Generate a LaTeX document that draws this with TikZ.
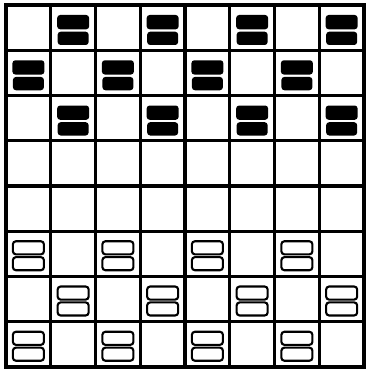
\documentclass[tikz,border=0pt]{standalone}
\begin{document}
\begin{tikzpicture}[x=1pt,y=-1pt,
  gridline/.style={line width=3.4pt, line cap=rect, black},
  darkpc/.pic={
    \fill[black, rounded corners=3pt] (-16,-15.5) rectangle (16,-1.2);
    \fill[black, rounded corners=3pt] (-15.5,1.2) rectangle (15.5,14.5);
  },
  lightpc/.pic={
    \draw[black, line width=2.1pt, rounded corners=3pt] (-15.5,-14.5) rectangle (15.5,-1.4);
    \draw[black, line width=2.1pt, rounded corners=3pt] (-15.5,1.4) rectangle (15.5,14.5);
  }]
\useasboundingbox (0,0) rectangle (366,369);
\fill[white] (0,0) rectangle (366,369);
% board
\foreach \i in {0,...,8}{
  \draw[gridline] ({6+44.75*\i},5) -- ({6+44.75*\i},367);
  \draw[gridline] (6,{5+45.25*\i}) -- (364,{5+45.25*\i});
}
% dark pieces
\foreach \r in {0,2}{\foreach \c in {1,3,5,7}{
  \pic at ({6+44.75*\c+22.4},{5+45.25*\r+25.5}) {darkpc};}}
\foreach \c in {0,2,4,6}{
  \pic at ({6+44.75*\c+22.4},{5+45.25*1+25.5}) {darkpc};}
% light pieces
\foreach \r in {5,7}{\foreach \c in {0,2,4,6}{
  \pic at ({6+44.75*\c+22.4},{5+45.25*\r+24.5}) {lightpc};}}
\foreach \c in {1,3,5,7}{
  \pic at ({6+44.75*\c+22.4},{5+45.25*6+24.5}) {lightpc};}
\end{tikzpicture}
\end{document}
